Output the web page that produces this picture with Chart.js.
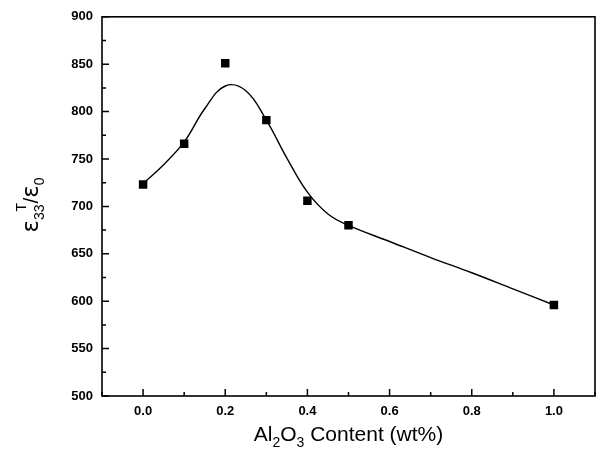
<!DOCTYPE html>
<html>
<head>
<meta charset="utf-8">
<script src="https://cdn.jsdelivr.net/npm/chart.js@4.4.1/dist/chart.umd.min.js"></script>
<style>
    body { margin: 0; background: #fff; }
    #wrap { width: 601px; height: 455px; }
</style>
</head>
<body>
<div id="wrap"><canvas id="grafik" width="601" height="455"></canvas></div>
<script>
// Data
const contents = [0.0, 0.1, 0.2, 0.3, 0.4, 0.5, 1.0];
const permittivity = [723, 766, 851, 791, 706, 680, 596];

// fitted curve as drawn in the figure
const fitX = [0.0, 0.05, 0.1, 0.15, 0.2, 0.25, 0.3, 0.35, 0.4, 0.45, 0.5, 0.6, 0.7, 0.8, 0.9, 1.0];
const fitY = [724, 744, 768, 803, 827, 822, 791, 751, 715, 692, 680, 663, 646, 630, 613, 596];

// tick labels
const xTicks = [0.0, 0.2, 0.4, 0.6, 0.8, 1.0];
const yTicks = [500, 550, 600, 650, 700, 750, 800, 850, 900];
const xMinor = [-0.1, 0.1, 0.3, 0.5, 0.7, 0.9, 1.1];
const yMinor = [525, 575, 625, 675, 725, 775, 825, 875];

// Frame, inward ticks and axis titles (with sub/superscripts)
const framePlugin = {
    id: 'frame',
    afterDraw(chart) {
        const ctx = chart.ctx;
        const a = chart.chartArea;
        const xs = chart.scales.x;
        const ys = chart.scales.y;
        ctx.save();
        ctx.strokeStyle = '#000';
        ctx.lineWidth = 1.6;
        ctx.strokeRect(a.left, a.top, a.right - a.left, a.bottom - a.top);

        ctx.lineWidth = 1.5;
        ctx.beginPath();
        yTicks.forEach(v => {
            const y = ys.getPixelForValue(v);
            ctx.moveTo(a.left, y); ctx.lineTo(a.left + 7, y);
        });
        yMinor.forEach(v => {
            const y = ys.getPixelForValue(v);
            ctx.moveTo(a.left, y); ctx.lineTo(a.left + 4, y);
        });
        xTicks.forEach(v => {
            const x = xs.getPixelForValue(v);
            ctx.moveTo(x, a.bottom); ctx.lineTo(x, a.bottom - 7);
        });
        xMinor.forEach(v => {
            const x = xs.getPixelForValue(v);
            ctx.moveTo(x, a.bottom); ctx.lineTo(x, a.bottom - 4);
        });
        ctx.stroke();

        ctx.fillStyle = '#000';
        ctx.textBaseline = 'alphabetic';
        ctx.textAlign = 'left';
        const big = '21px "Liberation Sans", Arial, sans-serif';
        const small = '14px "Liberation Sans", Arial, sans-serif';
        const greek = '23px "DejaVu Sans", sans-serif';

        // x title: Al2O3 Content (wt%)
        const xParts = [['Al', big, 0], ['2', small, 6], ['O', big, 0], ['3', small, 6], [' Content (wt%)', big, 0]];
        let w = 0;
        xParts.forEach(p => { ctx.font = p[1]; w += ctx.measureText(p[0]).width; });
        let cx = (a.left + a.right) / 2 - w / 2;
        xParts.forEach(p => {
            ctx.font = p[1];
            ctx.fillText(p[0], cx, 441 + p[2]);
            cx += ctx.measureText(p[0]).width;
        });

        // y title: eps33^T / eps0
        ctx.save();
        ctx.font = greek;
        const e1 = ctx.measureText('\u03b5').width;
        ctx.font = big;
        const sl = ctx.measureText('/').width;
        ctx.font = small;
        const s33 = ctx.measureText('33').width;
        const s0 = ctx.measureText('0').width;
        const total = e1 + s33 + 1 + sl + e1 + s0;
        ctx.translate(38, 205 + total / 2);
        ctx.rotate(-Math.PI / 2);
        let px = 0;
        ctx.font = greek;
        ctx.fillText('\u03b5', px, 0); px += e1;
        ctx.font = small;
        ctx.fillText('33', px, 6);
        ctx.fillText('T', px + s33 * 0.55, -12);
        px += s33 + 1;
        ctx.font = big;
        ctx.fillText('/', px, 0); px += sl;
        ctx.font = greek;
        ctx.fillText('\u03b5', px, 0); px += e1;
        ctx.font = small;
        ctx.fillText('0', px, 6);
        ctx.restore();

        ctx.restore();
    }
};

const tickFont = { family: '"Liberation Sans", Arial, sans-serif', size: 13, weight: 'bold' };

const grafikConfig = {
    data: {
        datasets: [{
            type: 'line',
            label: 'fit',
            data: fitX.map((x, i) => ({ x: x, y: fitY[i] })),
            borderColor: '#000',
            borderWidth: 1.4,
            pointRadius: 0,
            fill: false,
            tension: 0.4,
            order: 2
        }, {
            type: 'scatter',
            label: 'measured',
            data: contents.map((x, i) => ({ x: x, y: permittivity[i] })),
            backgroundColor: '#000',
            borderColor: '#000',
            borderWidth: 0,
            pointStyle: 'rect',
            pointRadius: 6,
            order: 1
        }]
    },
    options: {
        responsive: false,
        animation: false,
        layout: { padding: { top: 16, right: 2, left: 0, bottom: 0 } },
        plugins: {
            legend: { display: false },
            tooltip: { enabled: false }
        },
        scales: {
            x: {
                type: 'linear',
                min: -0.1,
                max: 1.1,
                grid: { display: false, drawTicks: false },
                border: { display: false },
                afterBuildTicks: scale => { scale.ticks = xTicks.map(v => ({ value: v })); },
                afterFit: scale => { scale.height = 59; },
                ticks: {
                    font: tickFont,
                    color: '#000',
                    padding: 8,
                    maxRotation: 0,
                    callback: v => v.toFixed(1)
                }
            },
            y: {
                type: 'linear',
                min: 500,
                max: 900,
                grid: { display: false, drawTicks: false },
                border: { display: false },
                afterBuildTicks: scale => { scale.ticks = yTicks.map(v => ({ value: v })); },
                afterFit: scale => { scale.width = 102; },
                ticks: {
                    font: tickFont,
                    color: '#000',
                    padding: 9,
                    callback: v => v
                }
            }
        }
    },
    plugins: [framePlugin]
};

const grafikCtx = document.getElementById('grafik').getContext('2d');
new Chart(grafikCtx, grafikConfig);
</script>
</body>
</html>
